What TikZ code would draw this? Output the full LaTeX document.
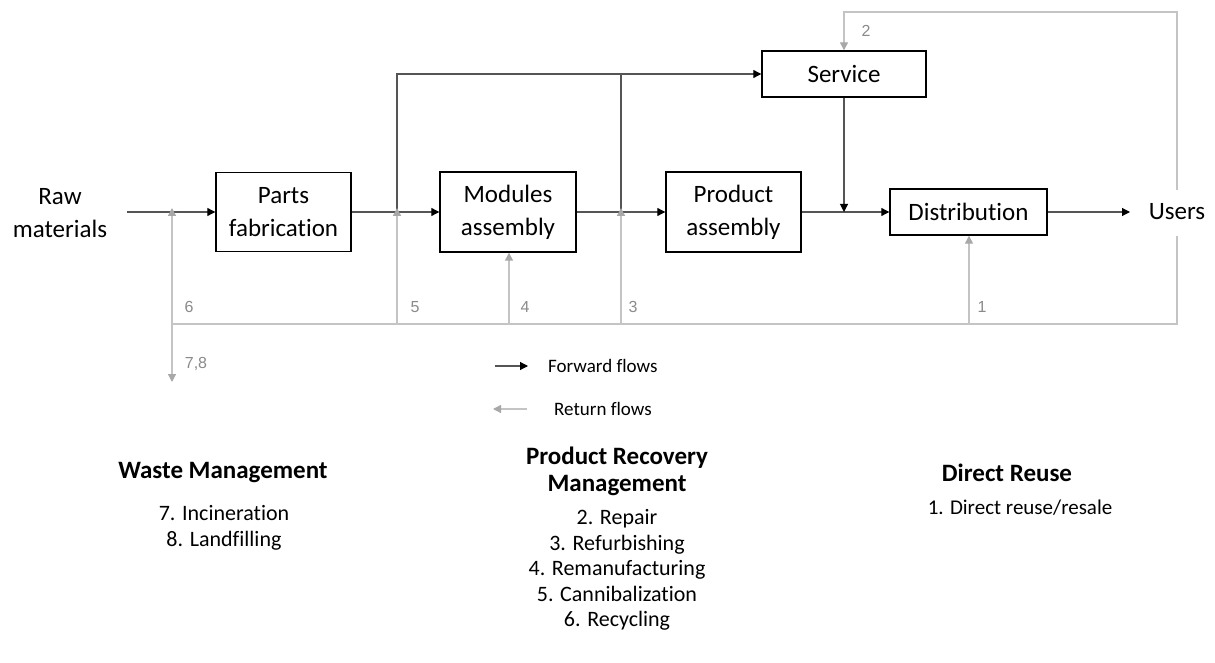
\documentclass[tikz,border=0pt]{standalone}
\usepackage{fontspec}
\setmainfont{Carlito}[Ligatures=NoCommon]
\newfontfamily\numfont{Liberation Sans}
\usetikzlibrary{arrows.meta}
\definecolor{fwdline}{HTML}{555555}
\definecolor{retline}{HTML}{C4C4C4}
\definecolor{rettip}{HTML}{A8A8A8}
\definecolor{numcol}{HTML}{8A8A8A}
\tikzset{
  box/.style={draw=black, line width=1.4pt, inner sep=0pt, align=center,
    font=\fontsize{25}{33}\selectfont},
  plain/.style={inner sep=0pt, align=center, font=\fontsize{25}{33}\selectfont},
  fwd/.style={draw=fwdline, line width=1.1pt, -{Triangle[length=8pt,width=8pt,color=black]}},
  fwdline/.style={draw=fwdline, line width=1.1pt},
  ret/.style={draw=retline, line width=1.3pt, -{Triangle[length=8pt,width=8pt,color=rettip]}},
  retline/.style={draw=retline, line width=1.3pt},
  num/.style={inner sep=0pt, text=numcol, font=\numfont\fontsize{16}{18}\selectfont},
  head/.style={inner sep=0pt, align=center, font=\bfseries\fontsize{25}{27}\selectfont},
  item/.style={inner sep=0pt, align=center, font=\fontsize{22}{26.5}\selectfont},
  legend/.style={inner sep=0pt, anchor=west, font=\fontsize{19}{22}\selectfont}
}
\begin{document}
\begin{tikzpicture}[x=1pt,y=-1pt]
\useasboundingbox (0,0) rectangle (1215,663);

% nodes
\node[plain] (raw) at (60,213) {Raw\\materials};
\node[box, minimum width=135pt, minimum height=79pt] (parts) at (283.5,212) {Parts\\fabrication};
\node[box, minimum width=136pt, minimum height=80pt] (modules) at (508,212) {Modules\\assembly};
\node[box, minimum width=135pt, minimum height=80pt] (product) at (733.5,212) {Product\\assembly};
\node[box, minimum width=164pt, minimum height=46pt, font=\fontsize{25}{30}\selectfont] (service) at (844,74) {Service};
\node[box, minimum width=157pt, minimum height=46pt, font=\fontsize{25}{30}\selectfont] (dist) at (968.5,212) {Distribution};
\node[plain] (users) at (1177,212) {Users};

% coordinates
\coordinate (r0) at (127,212);
\coordinate (j6) at (172,212);
\coordinate (j5) at (397,212);
\coordinate (j3) at (621,212);
\coordinate (j2) at (844,212);
\coordinate (u0) at (1130,212);
\coordinate (b6) at (172,324);
\coordinate (b5) at (397,324);
\coordinate (b4) at (509,324);
\coordinate (b3) at (621,324);
\coordinate (b1) at (969,324);
\coordinate (bR) at (1177,324);
\coordinate (uS) at (1177,236);
\coordinate (uN) at (1177,190);
\coordinate (tR) at (1177,12);
\coordinate (t2) at (844,12);
\coordinate (w78) at (172,382);
\coordinate (t3) at (621,74);

% forward flows
\draw[fwd] (r0) -- (parts.west);
\draw[fwd] (parts.east) -- (modules.west);
\draw[fwd] (modules.east) -- (product.west);
\draw[fwd] (product.east) -- (dist.west);
\draw[fwd] (dist.east) -- (u0);
\draw[fwd] (j5) |- (service.west);
\draw[fwdline] (j3) -- (t3);
\draw[fwd] (service.south) -- (j2);

% return flows
\draw[retline] (b6) -- (bR) -- (uS);
\draw[ret] (uN) -- (tR) -- (t2) -- (service.north);
\draw[ret] (b6) -- ([yshift=4pt]j6);
\draw[ret] (b5) -- ([yshift=4pt]j5);
\draw[ret] (b4) -- (modules.south -| b4);
\draw[ret] (b3) -- ([yshift=4pt]j3);
\draw[ret] (b1) -- (dist.south -| b1);
\draw[ret] (b6) -- (w78);

% numbers
\node[num] (n6) at (189,307) {6};
\node[num] (n5) at (415,307) {5};
\node[num] (n4) at (525,307) {4};
\node[num] (n3) at (633,307) {3};
\node[num] (n1) at (982,307) {1};
\node[num] (n2) at (866,31) {2};
\node[num] (n78) at (196,364) {7,8};

% legend
\coordinate (lf0) at (495,366);
\coordinate (lf1) at (528,366);
\coordinate (lr0) at (527,409);
\coordinate (lr1) at (493,409);
\draw[fwd] (lf0) -- (lf1);
\draw[ret] (lr0) -- (lr1);
\node[legend] (lfwd) at (548,366) {Forward flows};
\node[legend] (lret) at (554,409) {Return flows};

% categories
\node[head] (wm) at (223,473) {Waste Management};
\node[item] (wmi) at (224,528) {7. Incineration\\8. Landfilling};
\node[head] (prm) at (617,471) {Product Recovery\\Management};
\node[item, font=\fontsize{22}{25.5}\selectfont] (prmi) at (617,570) {2. Repair\\3. Refurbishing\\4. Remanufacturing\\5. Cannibalization\\6. Recycling};
\node[head] (dr) at (1007,473) {Direct Reuse};
\node[item, font=\fontsize{21}{25}\selectfont] (dri) at (1020,508) {1. Direct reuse/resale};
\end{tikzpicture}
\end{document}
